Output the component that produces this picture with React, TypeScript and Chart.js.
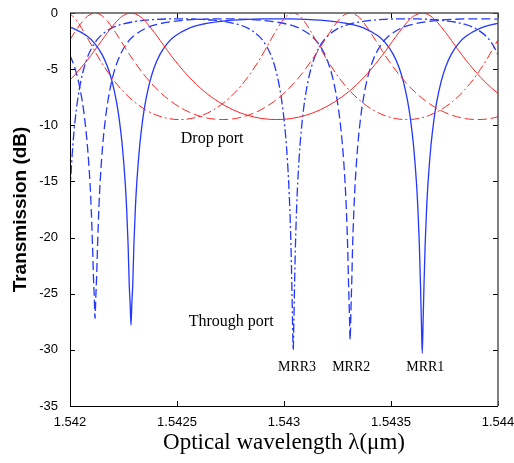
import React, { useEffect, useRef } from 'react';
import { Chart, registerables } from 'chart.js';

Chart.register(...registerables);

// ---- axes ----
const xTickValues = [1.542, 1.5425, 1.543, 1.5435, 1.544];
const xTickLabels = ['1.542', '1.5425', '1.543', '1.5435', '1.544'];
const yTickValues = [0, -5, -10, -15, -20, -25, -30, -35];
const yTickLabels = ['0', '-5', '-10', '-15', '-20', '-25', '-30', '-35'];

// ---- MRR1 (solid) ----
const mrr1ThroughWl = [1.542, 1.5420128, 1.5420808, 1.5421149, 1.5421489, 1.5421761, 1.5421965, 1.5422169, 1.5422306, 1.5422442, 1.5422578, 1.5422646, 1.5422714, 1.5422768, 1.5422809, 1.542285, 1.5422891, 1.5422932, 1.5422986, 1.5423054, 1.5423122, 1.5423258, 1.5423394, 1.5423531, 1.5423735, 1.5423939, 1.5424211, 1.5424551, 1.5424892, 1.5425572, 1.5426253, 1.5426933, 1.5427614, 1.5428294, 1.5428975, 1.5429655, 1.5430335, 1.5431016, 1.5431696, 1.5432377, 1.5433057, 1.5433738, 1.5434418, 1.5434759, 1.5435099, 1.5435371, 1.5435575, 1.5435779, 1.5435916, 1.5436052, 1.5436188, 1.5436256, 1.5436324, 1.5436378, 1.5436419, 1.543646, 1.5436501, 1.5436542, 1.5436596, 1.5436664, 1.5436732, 1.5436868, 1.5437004, 1.5437141, 1.5437345, 1.5437549, 1.5437821, 1.5438161, 1.5438502, 1.5439182, 1.5439863, 1.5440543];
const mrr1ThroughDb = [-1.27, -1.35, -2.08, -2.7, -3.66, -4.83, -6.09, -7.88, -9.54, -11.78, -15.06, -17.4, -20.6, -24.2, -25.8, -27.8, -25.8, -24.2, -20.6, -17.4, -15.06, -11.78, -9.54, -7.88, -6.09, -4.83, -3.66, -2.7, -2.08, -1.35, -0.98, -0.77, -0.64, -0.57, -0.53, -0.52, -0.53, -0.57, -0.64, -0.77, -0.98, -1.35, -2.08, -2.7, -3.66, -4.83, -6.09, -7.88, -9.54, -11.78, -15.06, -17.4, -20.6, -24.2, -27.4, -30.3, -27.4, -24.2, -20.6, -17.4, -15.06, -11.78, -9.54, -7.88, -6.09, -4.83, -3.66, -2.7, -2.08, -1.35, -0.98, -0.77];
const mrr1DropWl = [1.542, 1.5420128, 1.5420808, 1.5421149, 1.5421489, 1.5421761, 1.5422169, 1.5422442, 1.542285, 1.5423258, 1.5423531, 1.5423939, 1.5424211, 1.5424551, 1.5424892, 1.5425572, 1.5426253, 1.5426933, 1.5427614, 1.5428294, 1.5428975, 1.5429655, 1.5430335, 1.5431016, 1.5431696, 1.5432377, 1.5433057, 1.5433738, 1.5434418, 1.5434759, 1.5435099, 1.5435371, 1.5435779, 1.5436052, 1.543646, 1.5436868, 1.5437141, 1.5437549, 1.5437821, 1.5438161, 1.5438502, 1.5439182, 1.5439863, 1.5440543];
const mrr1DropDb = [-5.96, -5.72, -4.2, -3.34, -2.44, -1.73, -0.77, -0.29, 0, -0.29, -0.77, -1.73, -2.44, -3.34, -4.2, -5.72, -6.95, -7.9, -8.62, -9.11, -9.4, -9.49, -9.4, -9.11, -8.62, -7.9, -6.95, -5.72, -4.2, -3.34, -2.44, -1.73, -0.77, -0.29, 0, -0.29, -0.77, -1.73, -2.44, -3.34, -4.2, -5.72, -6.95, -7.9];

// ---- MRR2 (dashed) ----
const mrr2ThroughWl = [1.542, 1.5420216, 1.5420395, 1.5420574, 1.5420693, 1.5420812, 1.5420932, 1.5420991, 1.5421051, 1.5421098, 1.5421134, 1.542117, 1.5421206, 1.5421242, 1.5421289, 1.5421349, 1.5421408, 1.5421528, 1.5421647, 1.5421766, 1.5421945, 1.5422124, 1.5422362, 1.542266, 1.5422958, 1.5423554, 1.542415, 1.5424746, 1.5425342, 1.5425938, 1.5426534, 1.542713, 1.5427726, 1.5428322, 1.5428918, 1.5429514, 1.543011, 1.5430706, 1.5431302, 1.54316, 1.5431898, 1.5432136, 1.5432315, 1.5432494, 1.5432613, 1.5432732, 1.5432852, 1.5432911, 1.5432971, 1.5433018, 1.5433054, 1.543309, 1.5433126, 1.5433162, 1.5433209, 1.5433269, 1.5433328, 1.5433448, 1.5433567, 1.5433686, 1.5433865, 1.5434044, 1.5434282, 1.543458, 1.5434878, 1.5435474, 1.543607, 1.5436666, 1.5437262, 1.5437858, 1.5438454, 1.543905, 1.5439646, 1.5440242];
const mrr2ThroughDb = [-3.75, -4.83, -6.09, -7.88, -9.54, -11.78, -15.06, -17.4, -20.6, -23.6, -25.3, -27.2, -25.3, -23.6, -20.6, -17.4, -15.06, -11.78, -9.54, -7.88, -6.09, -4.83, -3.66, -2.7, -2.08, -1.35, -0.98, -0.77, -0.64, -0.57, -0.53, -0.52, -0.53, -0.57, -0.64, -0.77, -0.98, -1.35, -2.08, -2.7, -3.66, -4.83, -6.09, -7.88, -9.54, -11.78, -15.06, -17.4, -20.6, -24.2, -26.6, -29.1, -26.6, -24.2, -20.6, -17.4, -15.06, -11.78, -9.54, -7.88, -6.09, -4.83, -3.66, -2.7, -2.08, -1.35, -0.98, -0.77, -0.64, -0.57, -0.53, -0.52, -0.53, -0.57];
const mrr2DropWl = [1.542, 1.5420216, 1.5420574, 1.5420812, 1.542117, 1.5421528, 1.5421766, 1.5422124, 1.5422362, 1.542266, 1.5422958, 1.5423554, 1.542415, 1.5424746, 1.5425342, 1.5425938, 1.5426534, 1.542713, 1.5427726, 1.5428322, 1.5428918, 1.5429514, 1.543011, 1.5430706, 1.5431302, 1.54316, 1.5431898, 1.5432136, 1.5432494, 1.5432732, 1.543309, 1.5433448, 1.5433686, 1.5434044, 1.5434282, 1.543458, 1.5434878, 1.5435474, 1.543607, 1.5436666, 1.5437262, 1.5437858, 1.5438454, 1.543905, 1.5439646, 1.5440242];
const mrr2DropDb = [-2.37, -1.73, -0.77, -0.29, 0, -0.29, -0.77, -1.73, -2.44, -3.34, -4.2, -5.72, -6.95, -7.9, -8.62, -9.11, -9.4, -9.49, -9.4, -9.11, -8.62, -7.9, -6.95, -5.72, -4.2, -3.34, -2.44, -1.73, -0.77, -0.29, 0, -0.29, -0.77, -1.73, -2.44, -3.34, -4.2, -5.72, -6.95, -7.9, -8.62, -9.11, -9.4, -9.49, -9.4, -9.11];

// ---- MRR3 (dash-dot) ----
const mrr3ThroughWl = [1.5419815, 1.5419847, 1.5419879, 1.5419921, 1.5419974, 1.5420027, 1.5420133, 1.542024, 1.5420346, 1.5420505, 1.5420664, 1.5420877, 1.5421142, 1.5421407, 1.5421938, 1.5422469, 1.5423, 1.542353, 1.5424061, 1.5424592, 1.5425123, 1.5425653, 1.5426184, 1.5426715, 1.5427245, 1.5427776, 1.5428307, 1.5428838, 1.5429103, 1.5429368, 1.5429581, 1.542974, 1.5429899, 1.5430005, 1.5430112, 1.5430218, 1.5430271, 1.5430324, 1.5430366, 1.5430398, 1.543043, 1.5430462, 1.5430494, 1.5430536, 1.5430589, 1.5430642, 1.5430748, 1.5430855, 1.5430961, 1.543112, 1.5431279, 1.5431492, 1.5431757, 1.5432022, 1.5432553, 1.5433084, 1.5433615, 1.5434145, 1.5434676, 1.5435207, 1.5435738, 1.5436268, 1.5436799, 1.543733, 1.543786, 1.5438391, 1.5438922, 1.5439453, 1.5439718, 1.5439983, 1.5440196];
const mrr3ThroughDb = [-30, -27.7, -24.2, -20.6, -17.4, -15.06, -11.78, -9.54, -7.88, -6.09, -4.83, -3.66, -2.7, -2.08, -1.35, -0.98, -0.77, -0.64, -0.57, -0.53, -0.52, -0.53, -0.57, -0.64, -0.77, -0.98, -1.35, -2.08, -2.7, -3.66, -4.83, -6.09, -7.88, -9.54, -11.78, -15.06, -17.4, -20.6, -24.2, -27.4, -30, -27.4, -24.2, -20.6, -17.4, -15.06, -11.78, -9.54, -7.88, -6.09, -4.83, -3.66, -2.7, -2.08, -1.35, -0.98, -0.77, -0.64, -0.57, -0.53, -0.52, -0.53, -0.57, -0.64, -0.77, -0.98, -1.35, -2.08, -2.7, -3.66, -4.83];
const mrr3DropWl = [1.5419815, 1.5420133, 1.5420346, 1.5420664, 1.5420877, 1.5421142, 1.5421407, 1.5421938, 1.5422469, 1.5423, 1.542353, 1.5424061, 1.5424592, 1.5425123, 1.5425653, 1.5426184, 1.5426715, 1.5427245, 1.5427776, 1.5428307, 1.5428838, 1.5429103, 1.5429368, 1.5429581, 1.5429899, 1.5430112, 1.543043, 1.5430748, 1.5430961, 1.5431279, 1.5431492, 1.5431757, 1.5432022, 1.5432553, 1.5433084, 1.5433615, 1.5434145, 1.5434676, 1.5435207, 1.5435738, 1.5436268, 1.5436799, 1.543733, 1.543786, 1.5438391, 1.5438922, 1.5439453, 1.5439718, 1.5439983, 1.5440196];
const mrr3DropDb = [0, -0.29, -0.77, -1.73, -2.44, -3.34, -4.2, -5.72, -6.95, -7.9, -8.62, -9.11, -9.4, -9.49, -9.4, -9.11, -8.62, -7.9, -6.95, -5.72, -4.2, -3.34, -2.44, -1.73, -0.77, -0.29, 0, -0.29, -0.77, -1.73, -2.44, -3.34, -4.2, -5.72, -6.95, -7.9, -8.62, -9.11, -9.4, -9.49, -9.4, -9.11, -8.62, -7.9, -6.95, -5.72, -4.2, -3.34, -2.44, -1.73];

// ---- text annotations ----
const noteTexts = ['Drop port', 'Through port', 'MRR3', 'MRR2', 'MRR1'];
const noteWl = [1.542664, 1.542753, 1.543061, 1.543314, 1.54366];
const noteDb = [-11.2, -27.5, -31.6, -31.6, -31.6];
const noteSizes = [16, 16, 14, 14, 14];

const BLUE = 'rgb(35,55,255)';
const RED = 'rgb(255,35,35)';
const DASH = [9, 4];
const DASHDOT = [9, 3, 2, 3];

const toPoints = (xs: number[], ys: number[]) => xs.map((x, i) => ({ x, y: ys[i] }));

const framePlugin = {
  id: 'matlabFrame',
  afterDatasetsDraw(chart: any) {
    const { ctx, chartArea, scales } = chart;
    const { left, right, top, bottom } = chartArea;
    const xs = scales.x;
    const ys = scales.y;
    ctx.save();
    ctx.lineWidth = 1;
    ctx.strokeStyle = '#000';
    ctx.beginPath();
    xTickValues.forEach((v) => {
      const px = Math.round(xs.getPixelForValue(v)) + 0.5;
      ctx.moveTo(px, bottom);
      ctx.lineTo(px, bottom - 5);
      ctx.moveTo(px, top);
      ctx.lineTo(px, top + 5);
    });
    yTickValues.forEach((v) => {
      const py = Math.round(ys.getPixelForValue(v)) + 0.5;
      ctx.moveTo(left, py);
      ctx.lineTo(left + 5, py);
      ctx.moveTo(right, py);
      ctx.lineTo(right - 5, py);
    });
    ctx.stroke();
    // box
    ctx.strokeStyle = '#555';
    ctx.lineWidth = 1.5;
    ctx.beginPath();
    ctx.moveTo(left, top);
    ctx.lineTo(right, top);
    ctx.lineTo(right, bottom);
    ctx.stroke();
    ctx.strokeStyle = '#000';
    ctx.lineWidth = 1;
    ctx.beginPath();
    ctx.moveTo(Math.round(left) + 0.5, top);
    ctx.lineTo(Math.round(left) + 0.5, Math.round(bottom) + 0.5);
    ctx.lineTo(right, Math.round(bottom) + 0.5);
    ctx.stroke();
    // notes
    ctx.fillStyle = '#000';
    ctx.textAlign = 'center';
    ctx.textBaseline = 'middle';
    noteTexts.forEach((t, i) => {
      ctx.font = `${noteSizes[i]}px "Liberation Serif", "Times New Roman", serif`;
      ctx.fillText(t, xs.getPixelForValue(noteWl[i]), ys.getPixelForValue(noteDb[i]));
    });
    ctx.restore();
  },
};

export default function App() {
  const canvasRef = useRef<HTMLCanvasElement | null>(null);

  useEffect(() => {
    document.body.style.margin = '0';
    const canvas = canvasRef.current;
    if (!canvas) return;
    const mk = (label: string, xs: number[], ys: number[], color: string, dash: number[], width: number) => ({
      label,
      data: toPoints(xs, ys),
      borderColor: color,
      backgroundColor: color,
      borderWidth: width,
      borderDash: dash,
      pointRadius: 0,
      fill: false,
      tension: 0,
      cubicInterpolationMode: 'monotone' as const,
    });
    const chart = new Chart(canvas, {
      type: 'line',
      data: {
        datasets: [
          mk('MRR1 drop', mrr1DropWl, mrr1DropDb, RED, [], 1),
          mk('MRR2 drop', mrr2DropWl, mrr2DropDb, RED, DASH, 1),
          mk('MRR3 drop', mrr3DropWl, mrr3DropDb, RED, DASHDOT, 1),
          mk('MRR1 through', mrr1ThroughWl, mrr1ThroughDb, BLUE, [], 1.3),
          mk('MRR2 through', mrr2ThroughWl, mrr2ThroughDb, BLUE, DASH, 1.3),
          mk('MRR3 through', mrr3ThroughWl, mrr3ThroughDb, BLUE, DASHDOT, 1.3),
        ],
      },
      options: {
        responsive: false,
        animation: false,
        events: [],
        layout: { padding: { left: 0, right: 16, top: 13, bottom: 0 } },
        plugins: { legend: { display: false }, tooltip: { enabled: false } },
        scales: {
          x: {
            type: 'linear',
            min: 1.542,
            max: 1.544,
            grid: { display: false },
            border: { display: false },
            afterBuildTicks: (scale: any) => {
              scale.ticks = xTickValues.map((v) => ({ value: v }));
            },
            afterFit: (scale: any) => {
              scale.height = 57;
              scale.paddingLeft = 0;
              scale.paddingRight = 0;
            },
            ticks: {
              autoSkip: false,
              maxRotation: 0,
              padding: 1,
              color: '#000',
              font: { family: '"Liberation Sans", Arial, sans-serif', size: 13 },
              callback: (_v: any, i: number) => xTickLabels[i],
            },
            title: {
              display: true,
              text: 'Optical wavelength λ(μm)',
              color: '#000',
              font: { family: '"Liberation Serif", "Times New Roman", serif', size: 23 },
              padding: { top: 0, bottom: 6 },
            },
          },
          y: {
            type: 'linear',
            min: -35,
            max: 0,
            grid: { display: false },
            border: { display: false },
            afterBuildTicks: (scale: any) => {
              scale.ticks = yTickValues.map((v) => ({ value: v }));
            },
            afterFit: (scale: any) => {
              scale.width = 70;
              scale.paddingTop = 0;
              scale.paddingBottom = 0;
            },
            ticks: {
              autoSkip: false,
              padding: 4,
              color: '#000',
              font: { family: '"Liberation Sans", Arial, sans-serif', size: 13 },
              callback: (_v: any, i: number) => yTickLabels[i],
            },
            title: {
              display: true,
              text: 'Transmission (dB)',
              color: '#000',
              font: { family: '"Liberation Sans", Arial, sans-serif', size: 19, weight: 'bold' },
              padding: { top: 9, bottom: 0 },
            },
          },
        },
      },
      plugins: [framePlugin],
    });
    return () => chart.destroy();
  }, []);

  return (
    <div style={{ width: 514, height: 463, background: '#fff' }}>
      <canvas ref={canvasRef} width={514} height={463} />
    </div>
  );
}
